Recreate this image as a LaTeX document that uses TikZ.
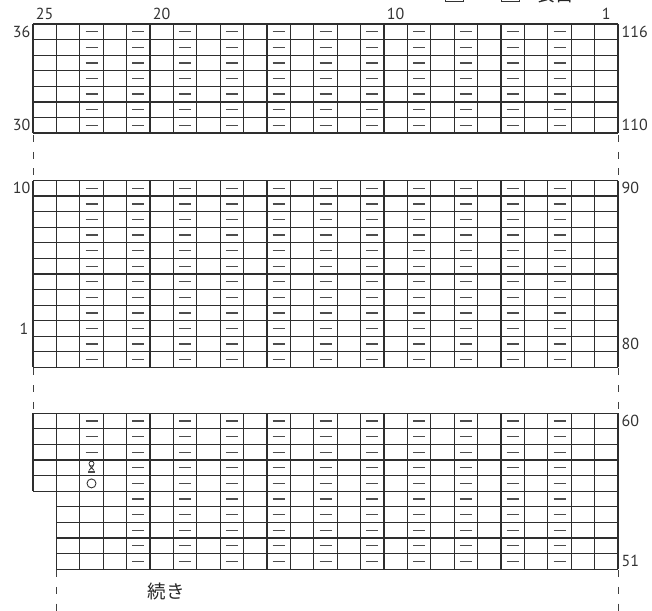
\documentclass[tikz,border=0pt]{standalone}
\usepackage{fontspec}
\setmainfont{PT Sans}
\newfontfamily\jpfont{Noto Sans CJK JP}
\begin{document}
\begin{tikzpicture}[x=1pt,y=-1pt,
  gridline/.style={line width=1.2pt, draw=black!82},
  purlmark/.style={line width=1.3pt, draw=black!70},
  dashline/.style={line width=0.9pt, draw=black!75, dash pattern=on 7pt off 9.7pt},
  num/.style={font=\fontsize{16}{16}\selectfont, text=black!80, inner sep=0pt},
  jp/.style={font=\jpfont\fontsize{18.5}{18.5}\selectfont, text=black!85, inner sep=0pt}]
\useasboundingbox (0,0) rectangle (652,610);
\clip (0,0) rectangle (652,610);
\def\cw{23.4}
\def\rh{15.58}
% ---------- legend (clipped at the top) ----------
\draw[line width=1pt, draw=black!80] (445,-16) rectangle (463,2);
\node[jp, anchor=base] (eq) at (481.5,4.5) {＝};
\draw[line width=1pt, draw=black!80] (501,-16) rectangle (519,2);
\node[jp, anchor=base] (omote) at (555,1.8) {表目};
% ---------- section 1 : rows 36..30 ----------
\def\ta{24}
\foreach \r in {0,...,7} \draw[gridline] (33,\ta+\r*\rh) -- (618,\ta+\r*\rh);
\foreach \k in {0,...,25} \draw[gridline] (33+\k*\cw,\ta) -- (33+\k*\cw,\ta+7*\rh);
\foreach \r in {0,...,6} \foreach \c in {3,5,...,23}
  \draw[purlmark] (33+\c*\cw-0.5*\cw-6,\ta+\r*\rh+0.5*\rh) -- ++(12,0);
% ---------- section 2 : 12 rows ----------
\def\tb{180.5}
\foreach \r in {0,...,12} \draw[gridline] (33,\tb+\r*\rh) -- (618,\tb+\r*\rh);
\foreach \k in {0,...,25} \draw[gridline] (33+\k*\cw,\tb) -- (33+\k*\cw,\tb+12*\rh);
\foreach \r in {0,...,11} \foreach \c in {3,5,...,23}
  \draw[purlmark] (33+\c*\cw-0.5*\cw-6,\tb+\r*\rh+0.5*\rh) -- ++(12,0);
% ---------- section 3 : rows 60..51 ----------
\def\tc{413.3}
\foreach \r in {0,...,5} \draw[gridline] (33,\tc+\r*\rh) -- (618,\tc+\r*\rh);
\foreach \r in {6,...,10} \draw[gridline] (33+\cw,\tc+\r*\rh) -- (618,\tc+\r*\rh);
\draw[gridline] (33,\tc) -- (33,\tc+5*\rh);
\foreach \k in {1,...,25} \draw[gridline] (33+\k*\cw,\tc) -- (33+\k*\cw,\tc+10*\rh);
\foreach \r in {0,...,9} \foreach \c in {5,7,...,23}
  \draw[purlmark] (33+\c*\cw-0.5*\cw-6,\tc+\r*\rh+0.5*\rh) -- ++(12,0);
\foreach \r in {0,1,2}
  \draw[purlmark] (33+2.5*\cw-6,\tc+\r*\rh+0.5*\rh) -- ++(12,0);
% twisted stitch symbol (row 57)
\begin{scope}[shift={(33+2.5*\cw,\tc+3.5*\rh)}]
  \draw[line width=0.8pt, draw=black!80] (0,-4.2) circle (2.5);
  \draw[line width=0.8pt, draw=black!80] (-2,-2.2) -- (2.6,2.6) (2,-2.2) -- (-2.6,2.6);
  \draw[line width=1.6pt, draw=black!70] (-3.2,4.3) -- (3.2,4.3);
\end{scope}
% yarn over (row 56)
\draw[line width=0.9pt, draw=black!80] (33+2.5*\cw,\tc+4.5*\rh) circle (4.5);
% ---------- dashed continuation lines ----------
\draw[dashline] (33,\ta+7*\rh+2) -- (33,\tb);
\draw[dashline] (618,\ta+7*\rh+2) -- (618,\tb);
\draw[dashline] (33,\tb+12*\rh+1) -- (33,\tc);
\draw[dashline] (618,\tb+12*\rh+1) -- (618,\tc);
\draw[dashline] (33+\cw,\tc+10*\rh+1) -- (33+\cw,612);
\draw[dashline] (618,\tc+10*\rh+1) -- (618,612);
% ---------- column numbers ----------
\node[num] (c25) at (33+0.5*\cw,13.7) {25};
\node[num] (c20) at (33+5.5*\cw,13.7) {20};
\node[num] (c10) at (33+15.5*\cw,13.7) {10};
\node[num] (c1) at (33+24.5*\cw,13.7) {1};
% ---------- row numbers, left ----------
\node[num, anchor=east] (l36) at (30.5,\ta+0.5*\rh) {36};
\node[num, anchor=east] (l30) at (30.5,\ta+6.5*\rh) {30};
\node[num, anchor=east] (l10) at (30.5,\tb+0.5*\rh) {10};
\node[num, anchor=east] (l1) at (28.5,\tb+9.5*\rh) {1};
% ---------- row numbers, right ----------
\node[num, anchor=west] (r116) at (621.5,\ta+0.5*\rh) {116};
\node[num, anchor=west] (r110) at (621.5,\ta+6.5*\rh) {110};
\node[num, anchor=west] (r90) at (621.5,\tb+0.5*\rh) {90};
\node[num, anchor=west] (r80) at (621.5,\tb+10.5*\rh) {80};
\node[num, anchor=west] (r60) at (621.5,\tc+0.5*\rh) {60};
\node[num, anchor=west] (r51) at (621.5,\tc+9.5*\rh) {51};
% ---------- continuation text ----------
\node[jp] (cont) at (166,591.5) {続き};
\end{tikzpicture}
\end{document}
